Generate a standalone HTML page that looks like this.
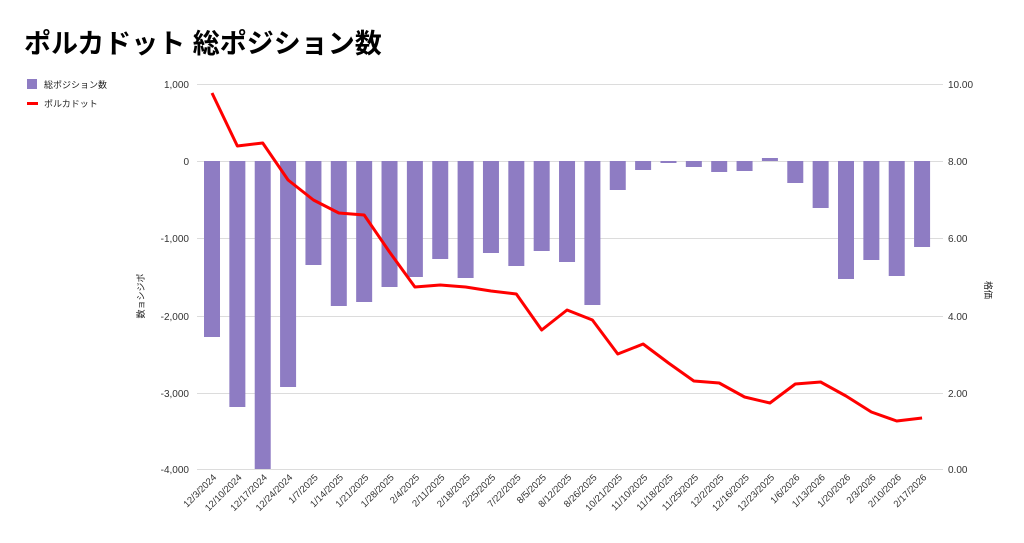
<!DOCTYPE html>
<html><head><meta charset="utf-8"><style>
body{margin:0;background:#fff;}
svg{display:block;font-family:"Liberation Sans","Noto Sans CJK JP",sans-serif;}
</style></head><body>
<svg width="1024" height="543" viewBox="0 0 1024 543">
<text x="24" y="53" font-size="27" font-weight="bold" fill="#000">ポルカドット 総ポジション数</text>
<rect x="27" y="79" width="10" height="10" fill="#8e7cc3"/>
<text x="44" y="88" font-size="9" fill="#222">総ポジション数</text>
<rect x="27" y="102" width="11" height="3" fill="#ff0000"/>
<text x="44" y="107" font-size="9" fill="#222">ポルカドット</text>
<g stroke="#dcdcdc" stroke-width="1">
<line x1="197" y1="84.5" x2="943" y2="84.5"/>
<line x1="197" y1="161.5" x2="943" y2="161.5"/>
<line x1="197" y1="238.5" x2="943" y2="238.5"/>
<line x1="197" y1="316.5" x2="943" y2="316.5"/>
<line x1="197" y1="393.5" x2="943" y2="393.5"/>
<line x1="197" y1="469.5" x2="943" y2="469.5"/>
</g>
<g font-size="10" fill="#333" text-anchor="end">
<text x="189" y="88">1,000</text><text x="189" y="165">0</text><text x="189" y="242">-1,000</text>
<text x="189" y="320">-2,000</text><text x="189" y="397">-3,000</text><text x="189" y="473">-4,000</text>
</g>
<g font-size="10" fill="#333">
<text x="948" y="88">10.00</text><text x="948" y="165">8.00</text><text x="948" y="242">6.00</text>
<text x="948" y="320">4.00</text><text x="948" y="397">2.00</text><text x="948" y="473">0.00</text>
</g>
<text transform="translate(144,296) rotate(-90)" font-size="9" fill="#222" text-anchor="middle">数ョシジポ</text>
<text transform="translate(985,290) rotate(90)" font-size="9" fill="#222" text-anchor="middle">格価</text>
<g id="bars" fill="#8e7cc3"></g>
<polyline id="line" fill="none" stroke="#ff0000" stroke-width="3" stroke-linejoin="round"/>
<g id="labels" font-size="9.5" fill="#333" text-anchor="end"></g>
</svg>
<script>
var bars=[337,407,469,387,265,306,302,287,277,259,278,253,266,251,262,305,190,170,163,167,172,171,158,183,208,279,260,276,247];
var ly=[93,146,143,180,200,213,215,252,287,285,287,291,294,330,310,320,354,344,363,381,383,397,403,384,382,396,412,421,418];
var lab=["12/3/2024","12/10/2024","12/17/2024","12/24/2024","1/7/2025","1/14/2025","1/21/2025","1/28/2025","2/4/2025","2/11/2025","2/18/2025","2/25/2025","7/22/2025","8/5/2025","8/12/2025","8/26/2025","10/21/2025","11/10/2025","11/18/2025","11/25/2025","12/2/2025","12/16/2025","12/23/2025","1/6/2026","1/13/2026","1/20/2026","2/3/2026","2/10/2026","2/17/2026"];
var ns="http://www.w3.org/2000/svg",b=document.getElementById("bars"),L=document.getElementById("labels"),pts=[];
for(var i=0;i<29;i++){var cx=212+i*25.36;
var r=document.createElementNS(ns,"rect");var y0=161,y1=bars[i];
r.setAttribute("x",cx-8);r.setAttribute("width",16);r.setAttribute("y",Math.min(y0,y1));r.setAttribute("height",Math.abs(y1-y0));b.appendChild(r);
pts.push(cx+","+ly[i]);
var t=document.createElementNS(ns,"text");t.setAttribute("transform","translate("+(cx+5)+",478) rotate(-45)");t.textContent=lab[i];L.appendChild(t);}
document.getElementById("line").setAttribute("points",pts.join(" "));
</script>
</body></html>
